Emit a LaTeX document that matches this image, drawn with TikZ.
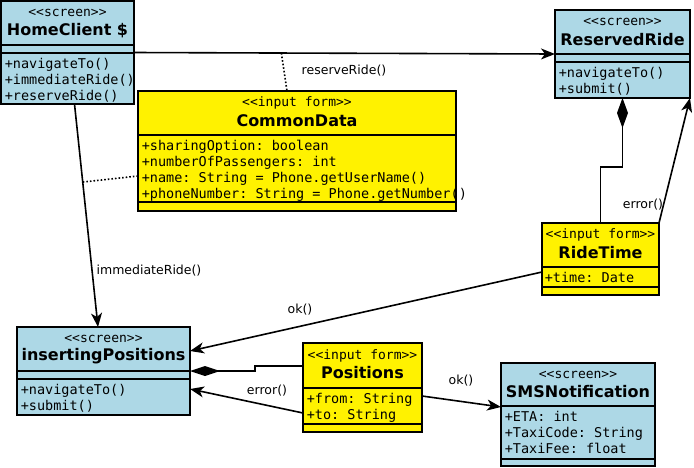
\documentclass[tikz,border=0pt]{standalone}
\usepackage{fontspec}
\setmainfont{DejaVu Sans}
\setmonofont{DejaVu Sans Mono}
\usetikzlibrary{arrows.meta}
\tikzset{>={Stealth[length=14pt,width=11pt,inset=4pt]}}
\definecolor{screenblue}{RGB}{173,216,230}

\begin{document}
\begin{tikzpicture}[x=1pt,y=-1pt,line width=1.6pt,
    umlbox/.style={draw,anchor=north west,inner sep=0,outer sep=0},
    screen/.style={umlbox,fill=screenblue},
    form/.style={umlbox,fill=yellow},
    stereo/.style={inner sep=0,font=\ttfamily\fontsize{13}{15}\selectfont},
    title/.style={inner sep=0,font=\bfseries\fontsize{16}{18}\selectfont},
    members/.style={anchor=north west,inner sep=0,align=left,font=\ttfamily\fontsize{13.5}{16}\selectfont},
    lbl/.style={inner sep=0,font=\fontsize{12.5}{14}\selectfont},
    dots/.style={dotted,line width=1.6pt}]
    \useasboundingbox (0,0) rectangle (694,467);

    % HomeClient
    \node[screen, minimum width=133, minimum height=103] (home) at (1,1) {};
    \draw ([yshift=-44]home.north west) -- ([yshift=-44]home.north east);
    \draw ([yshift=-52]home.north west) -- ([yshift=-52]home.north east);
    \node[stereo] (home-st) at ([yshift=-12]home.north) {<<screen>>};
    \node[title] (home-ti) at ([yshift=-29.5]home.north) {HomeClient \$};
    \node[members] (home-m) at ([xshift=3,yshift=-56.5]home.north west) {+navigateTo()\\+immediateRide()\\+reserveRide()};

    % ReservedRide
    \node[screen, minimum width=135, minimum height=88] (rr) at (555,10) {};
    \draw ([yshift=-44]rr.north west) -- ([yshift=-44]rr.north east);
    \draw ([yshift=-52]rr.north west) -- ([yshift=-52]rr.north east);
    \node[stereo] (rr-st) at ([yshift=-12]rr.north) {<<screen>>};
    \node[title] (rr-ti) at ([yshift=-29.5]rr.north) {ReservedRide};
    \node[members] (rr-m) at ([xshift=3,yshift=-56.5]rr.north west) {+navigateTo()\\+submit()};

    % CommonData
    \node[form, minimum width=318, minimum height=120] (cd) at (138,91) {};
    \draw ([yshift=-44]cd.north west) -- ([yshift=-44]cd.north east);
    \draw ([yshift=-111]cd.north west) -- ([yshift=-111]cd.north east);
    \node[stereo] (cd-st) at ([yshift=-12]cd.north) {<<input form>>};
    \node[title] (cd-ti) at ([yshift=-29.5]cd.north) {CommonData};
    \node[members] (cd-m) at ([xshift=3,yshift=-48.5]cd.north west) {+sharingOption: boolean\\+numberOfPassengers: int\\+name: String = Phone.getUserName()\\+phoneNumber: String = Phone.getNumber()};

    % RideTime
    \node[form, minimum width=117, minimum height=72] (rt) at (542,223) {};
    \draw ([yshift=-44]rt.north west) -- ([yshift=-44]rt.north east);
    \draw ([yshift=-64]rt.north west) -- ([yshift=-64]rt.north east);
    \node[stereo] (rt-st) at ([yshift=-12]rt.north) {<<input form>>};
    \node[title] (rt-ti) at ([yshift=-29.5]rt.north) {RideTime};
    \node[members] (rt-m) at ([xshift=2,yshift=-48.5]rt.north west) {+time: Date};

    % insertingPositions
    \node[screen, minimum width=173, minimum height=88] (ins) at (17,327) {};
    \draw ([yshift=-44]ins.north west) -- ([yshift=-44]ins.north east);
    \draw ([yshift=-52]ins.north west) -- ([yshift=-52]ins.north east);
    \node[stereo] (ins-st) at ([yshift=-12]ins.north) {<<screen>>};
    \node[title] (ins-ti) at ([yshift=-29.5]ins.north) {insertingPositions};
    \node[members] (ins-m) at ([xshift=3,yshift=-56.5]ins.north west) {+navigateTo()\\+submit()};

    % Positions
    \node[form, minimum width=119, minimum height=89] (pos) at (303,343) {};
    \draw ([yshift=-45]pos.north west) -- ([yshift=-45]pos.north east);
    \draw ([yshift=-81]pos.north west) -- ([yshift=-81]pos.north east);
    \node[stereo] (pos-st) at ([yshift=-12.5]pos.north) {<<input form>>};
    \node[title] (pos-ti) at ([yshift=-30]pos.north) {Positions};
    \node[members] (pos-m) at ([xshift=3,yshift=-49.5]pos.north west) {+from: String\\+to: String};

    % SMSNotification
    \node[screen, minimum width=154, minimum height=103] (sms) at (501,363) {};
    \draw ([yshift=-43]sms.north west) -- ([yshift=-43]sms.north east);
    \draw ([yshift=-96]sms.north west) -- ([yshift=-96]sms.north east);
    \node[stereo] (sms-st) at ([yshift=-12]sms.north) {<<screen>>};
    \node[title] (sms-ti) at ([yshift=-29]sms.north) {SMSNotification};
    \node[members] (sms-m) at ([xshift=3,yshift=-47.5]sms.north west) {+ETA: int\\+TaxiCode: String\\+TaxiFee: float};

    % connectors
    \draw[->] (home.east) -- coordinate[pos=.35] (assoc1) (rr.west);
    \draw[dots] (assoc1) -- ([xshift=-10]cd.north);
    \draw[->] ([xshift=7]home.south) -- coordinate[pos=.35] (assoc2) ([xshift=-5.5]ins.north);
    \draw[dots] (assoc2) -- ([yshift=-25]cd.west);
    \draw[->] ([yshift=-13]rt.west) -- ([yshift=20]ins.east);
    \draw[->] (rt.north east) -- (rr.south east);
    \draw[{Diamond[length=30pt,width=11pt]}-] (rr.south) -- ++(0,69) -| (rt.north);
    \draw[{Diamond[length=30pt,width=10pt]}-] (ins.east) -- ++(65,0) |- ([yshift=21.5]pos.west);
    \draw[->] ([yshift=-25.5]pos.west) -- ([yshift=-18]ins.east);
    \draw[->] ([yshift=-8.5]pos.east) -- ([yshift=7.5]sms.west);

    % labels
    \node[lbl] (l-reserve) at (344,71) {reserveRide()};
    \node[lbl] (l-immediate) at (149,271) {immediateRide()};
    \node[lbl] (l-ok1) at (300,310) {ok()};
    \node[lbl] (l-err1) at (643,205) {error()};
    \node[lbl] (l-err2) at (267,391) {error()};
    \node[lbl] (l-ok2) at (461,381) {ok()};
\end{tikzpicture}
\end{document}
